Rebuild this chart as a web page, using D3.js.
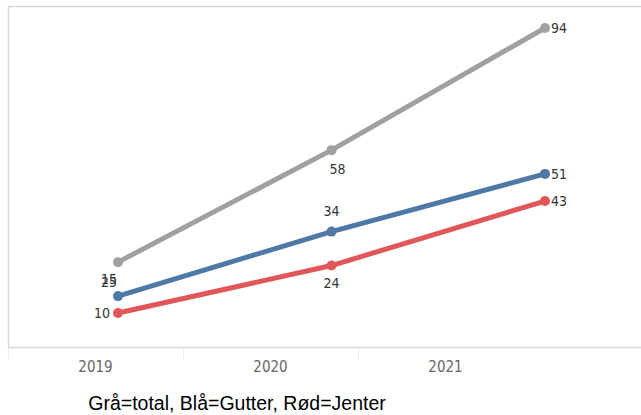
<!DOCTYPE html>
<html><head><meta charset="utf-8">
<script src="https://cdn.jsdelivr.net/npm/d3@7"></script>
<style>body{margin:0;background:#fff}svg{display:block}</style>
</head><body>
<svg id="c" width="641" height="415"></svg>
<script>
const years = ["2019","2020","2021"];
const total = [25, 58, 94];
const gutter = [15, 34, 51];
const jenter = [10, 24, 43];
const seriesNames = ["total","gutter","jenter"];
const colors = {total:"#a0a0a0", gutter:"#4e79a7", jenter:"#e15759"};
const caption = "Grå=total, Blå=Gutter, Rød=Jenter";

const svg = d3.select("#c");
const y = d3.scaleLinear().domain([0, 100]).range([347, 7.6]);
const xPt = d3.scalePoint().domain(years).range([118, 545]);
const xBand = d3.scaleBand().domain(years).range([8, 533]);
const lblFont = "DejaVu Sans Condensed, DejaVu Sans, sans-serif";

// frame
svg.append("line").attr("x1",8).attr("x2",641).attr("y1",6.5).attr("y2",6.5).attr("stroke","#d9d9d9").attr("stroke-width",1.5);
svg.append("line").attr("x1",8.5).attr("x2",8.5).attr("y1",6).attr("y2",347).attr("stroke","#d9d9d9").attr("stroke-width",1.5);

// x axis
const xAxis = d3.axisBottom(xBand).tickSize(0).tickPadding(14);
const gx = svg.append("g").attr("transform","translate(0,347)").call(xAxis);
gx.select(".domain").remove();
svg.append("line").attr("x1",8).attr("x2",641).attr("y1",347.5).attr("y2",347.5).attr("stroke","#d9d9d9").attr("stroke-width",1.5);
gx.selectAll("text").attr("fill","#666").attr("font-family",lblFont).attr("font-size",15);
// band separators
[8,183,358].forEach(v=>{
  svg.append("line").attr("x1",v+0.5).attr("x2",v+0.5).attr("y1",348).attr("y2",360).attr("stroke","#eeeeee").attr("stroke-width",1);
});

const data = {total, gutter, jenter};
const line = d3.line().x((d,i)=>xPt(years[i])).y(d=>y(d));
seriesNames.forEach(s=>{
  svg.append("path").datum(data[s]).attr("d",line).attr("fill","none")
    .attr("stroke",colors[s]).attr("stroke-width",5).attr("stroke-linecap","round");
  svg.selectAll(null).data(data[s]).enter().append("circle")
    .attr("cx",(d,i)=>xPt(years[i])).attr("cy",d=>y(d)).attr("r",5).attr("fill",colors[s]);
});

// labels: [series, index, dx, dy, anchor]
const lbl = [
  ["total",0,-1,-9,"end"],["total",1,-2,24,"start"],["total",2,6,5,"start"],
  ["gutter",0,-1,-12,"end"],["gutter",1,0,-16,"middle"],["gutter",2,6,5,"start"],
  ["jenter",0,-8,5,"end"],["jenter",1,0,22,"middle"],["jenter",2,6,5,"start"]
];
lbl.forEach(([s,i,dx,dy,a])=>{
  const v = data[s][i];
  let yy = (s==="total"&&i===0) ? y(gutter[0])+dy : y(v)+dy;
  const xx = xPt(years[i])+dx;
  svg.append("text").attr("x",xx).attr("y",yy).attr("text-anchor",a)
    .attr("fill","#333").attr("font-family",lblFont)
    .attr("font-size",14).text(v);
});

svg.append("text").attr("x",237).attr("y",410).attr("text-anchor","middle")
  .attr("font-family","Liberation Sans, Arial, sans-serif").attr("font-size",19.5).attr("fill","#000").text(caption);
</script>
</body></html>
